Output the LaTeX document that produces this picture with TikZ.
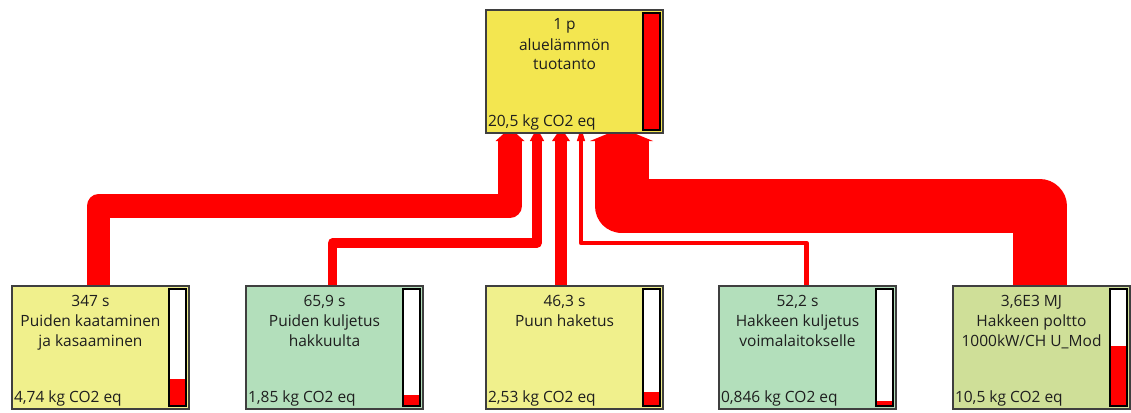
\documentclass[tikz,border=0pt]{standalone}
\usepackage{fontspec}
\setmainfont{Open Sans}
\usetikzlibrary{calc,backgrounds}
\definecolor{flowred}{HTML}{FF0000}
\definecolor{boxline}{HTML}{3F3F3F}
\definecolor{topfill}{HTML}{F3E650}
\definecolor{yel}{HTML}{F0F08C}
\definecolor{grn}{HTML}{B3DFBB}
\definecolor{olive}{HTML}{CFDF98}
\definecolor{txt}{HTML}{1E1E1E}
\newcommand\gauge[2]{%
  \fill[white] ([xshift=-20pt,yshift=-3pt]#1.north east) rectangle ([xshift=-3pt,yshift=3pt]#1.south east);
  \fill[flowred] ([xshift=-20pt,yshift=3pt]#1.south east) rectangle ([xshift=-3pt,yshift=3pt+#2pt]#1.south east);
  \draw[barframe] ([xshift=-20pt,yshift=-3pt]#1.north east) rectangle ([xshift=-3pt,yshift=3pt]#1.south east);}
\newcommand\flowhead[2]{%
  \fill[flowred] ([xshift=-#2pt,yshift=-1pt]#1) -- ([yshift=12pt]#1) -- ([xshift=#2pt,yshift=-1pt]#1) -- cycle;}
\begin{document}
\begin{tikzpicture}[x=1pt,y=-1pt,
  procbox/.style={draw=boxline, line width=1.3pt, minimum width=177pt, minimum height=123pt, anchor=north west, inner sep=0pt, outer sep=0pt},
  lbl/.style={inner sep=0pt, outer sep=0pt, font=\fontsize{15.5}{20}\selectfont, text=txt, anchor=base},
  val/.style={lbl, anchor=base west},
  flow/.style={draw=flowred, line join=round, line cap=butt},
  barframe/.style={draw=black, line width=1.3pt}]
\useasboundingbox (0,0) rectangle (1131,412);

% boxes
\node[procbox, fill=topfill] (tb) at (486,10) {};
\node[procbox, fill=yel] (b1) at (12,286) {};
\node[procbox, fill=grn] (b2) at (246,286) {};
\node[procbox, fill=yel] (b3) at (486,286) {};
\node[procbox, fill=grn] (b4) at (719,286) {};
\node[procbox, fill=olive] (b5) at (953,286) {};

% gauges
\gauge{tb}{117}
\gauge{b1}{27}
\gauge{b2}{10.6}
\gauge{b3}{14.4}
\gauge{b4}{4.8}
\gauge{b5}{60}

% texts
\node[lbl] (tb-a) at ($(tb.north west)+(78.5,20)$) {1 p};
\node[lbl] (tb-b) at ($(tb.north west)+(78.5,40)$) {aluelämmön};
\node[lbl] (tb-c) at ($(tb.north west)+(78.5,60)$) {tuotanto};
\node[val] (tb-v) at ($(tb.south west)+(2,-6.5)$) {20,5 kg CO2 eq};

\node[lbl] (b1-a) at ($(b1.north west)+(78.5,20)$) {347 s};
\node[lbl] (b1-b) at ($(b1.north west)+(78.5,40)$) {Puiden kaataminen};
\node[lbl] (b1-c) at ($(b1.north west)+(78.5,60)$) {ja kasaaminen};
\node[val] (b1-v) at ($(b1.south west)+(2,-6.5)$) {4,74 kg CO2 eq};

\node[lbl] (b2-a) at ($(b2.north west)+(78.5,20)$) {65,9 s};
\node[lbl] (b2-b) at ($(b2.north west)+(78.5,40)$) {Puiden kuljetus};
\node[lbl] (b2-c) at ($(b2.north west)+(78.5,60)$) {hakkuulta};
\node[val] (b2-v) at ($(b2.south west)+(2,-6.5)$) {1,85 kg CO2 eq};

\node[lbl] (b3-a) at ($(b3.north west)+(78.5,20)$) {46,3 s};
\node[lbl] (b3-b) at ($(b3.north west)+(78.5,40)$) {Puun haketus};
\node[val] (b3-v) at ($(b3.south west)+(2,-6.5)$) {2,53 kg CO2 eq};

\node[lbl] (b4-a) at ($(b4.north west)+(78.5,20)$) {52,2 s};
\node[lbl] (b4-b) at ($(b4.north west)+(78.5,40)$) {Hakkeen kuljetus};
\node[lbl] (b4-c) at ($(b4.north west)+(78.5,60)$) {voimalaitokselle};
\node[val] (b4-v) at ($(b4.south west)+(2,-6.5)$) {0,846 kg CO2 eq};

\node[lbl] (b5-a) at ($(b5.north west)+(78.5,20)$) {3,6E3 MJ};
\node[lbl] (b5-b) at ($(b5.north west)+(78.5,40)$) {Hakkeen poltto};
\node[lbl] (b5-c) at ($(b5.north west)+(78.5,60)$) {1000kW/CH U\_Mod};
\node[val] (b5-v) at ($(b5.south west)+(2,-6.5)$) {10,5 kg CO2 eq};

% flow slots and levels
\coordinate (yA) at (0,206);
\coordinate (yB) at (0,243);
\coordinate (s1) at ($(tb.south west)+(24,7)$);
\coordinate (s2) at ($(tb.south west)+(51,7)$);
\coordinate (s3) at ($(tb.south west)+(75,7)$);
\coordinate (s4) at ($(tb.south west)+(95,7)$);
\coordinate (s5) at ($(tb.south west)+(135.5,7)$);

\begin{pgfonlayer}{background}
\draw[flow, line width=23.5pt] ($(b1.north west)+(86.5,0)$) |- (s1 |- yA) -- (s1);
\draw[flow, line width=9.5pt] ($(b2.north west)+(86.5,0)$) |- (s2 |- yB) -- (s2);
\draw[flow, line width=12pt] ($(b3.north west)+(75,0)$) -- (s3);
\draw[flow, line width=4.5pt] ($(b4.north west)+(87.5,0)$) |- (s4 |- yB) -- (s4);
\draw[flow, line width=54pt] ($(b5.north west)+(86.5,0)$) |- (s5 |- yA) -- (s5);
\flowhead{s1}{14.5}
\flowhead{s2}{7.2}
\flowhead{s3}{9}
\flowhead{s4}{4.2}
\flowhead{s5}{31.5}
\end{pgfonlayer}
\end{tikzpicture}
\end{document}
